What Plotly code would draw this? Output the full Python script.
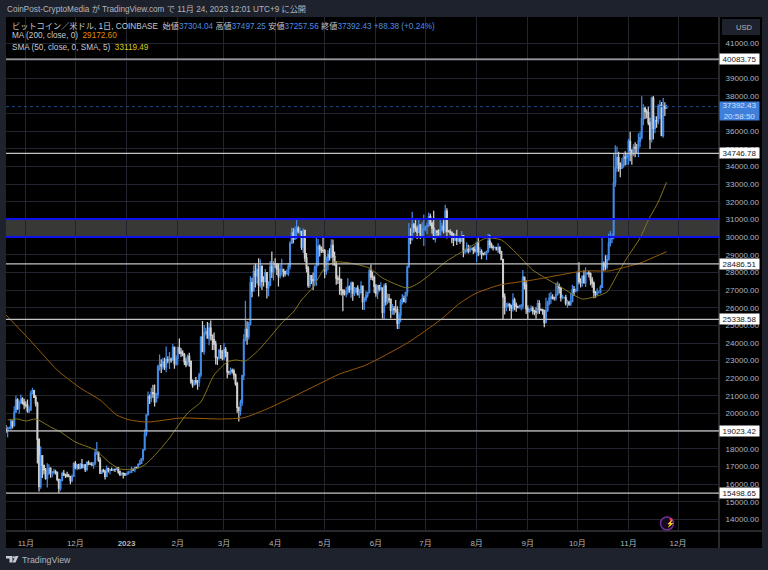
import pandas as pd
import plotly.graph_objects as go

first_date = "2022-10-20"
first_open = 19125
last_open = 37304.04

closes = [
 19045,19165,19205,19570,19330,20090,20775,20295,20595,20820,20630,20490,
 20485,20150,20205,21145,21300,20925,20600,18540,15880,17600,17070,16810,16330,16620,16900,16660,16690,16700,16690,16280,15780,16220,16605,16530,16520,16460,16430,16210,16440,17165,
 16970,17090,16890,17110,16970,17090,16840,17225,17130,17130,17080,17210,17780,17810,17360,16630,16780,16740,16440,16900,16820,16830,16790,16840,16835,16920,16700,16550,16630,16600,16530,
 16610,16670,16670,16850,16825,16950,16940,17120,17180,17440,17940,18850,19930,20960,20880,21190,21130,20670,21080,22670,22780,22710,22920,22630,23060,23010,23080,23030,23750,22830,23130,
 23730,23490,23430,23330,22940,22760,23240,22960,21800,21630,21860,21780,21780,22200,24330,23520,24570,24630,24280,24840,24440,24190,23940,23190,23160,23560,23490,23140,
 23640,23470,22360,22350,22430,22410,22200,21700,20360,20190,20620,22150,24190,24780,24370,25060,27420,26960,28040,27800,28170,27300,28350,27490,27490,27990,27140,27270,28350,28030,28480,
 28470,28190,27810,28170,28170,28040,27920,27950,28340,29650,30240,29890,30400,30490,30310,30320,29440,30390,28820,28250,27270,27820,27600,27520,28310,28420,29480,29320,29240,29230,
 28070,28680,29030,28850,29530,28900,28450,27660,27620,27590,26990,26800,26780,26920,27170,27040,27400,26820,26890,27110,26750,26850,27230,26340,26470,26720,26870,28080,27750,27700,27210,
 26820,27250,27070,27120,25740,27230,26350,26500,26480,25850,25940,25900,25900,25120,25590,26340,26510,26340,26850,28310,30000,29890,30690,30550,30470,30270,30700,30080,30450,30480,
 30590,30620,31160,30770,30510,29900,30350,30290,30170,30420,30620,30390,31470,30330,30300,30250,30150,29860,29920,29800,29900,29790,30080,29180,29230,29350,29220,29320,29360,29280,29230,
 29700,29170,29180,29070,29050,29050,29180,29770,29570,29430,29400,29420,29280,29410,29170,28720,26620,26050,26100,26190,26130,25980,26430,26160,26050,26000,26090,26100,27730,27300,25930,
 25800,25870,25970,25820,25780,25750,26240,25900,25890,25830,25160,25840,26220,26530,26600,26570,26530,26760,27210,27130,26570,26580,26580,26260,26300,26210,26350,27030,26910,26970,
 27970,27500,27430,27790,27410,27950,27970,27930,27580,27390,26870,26760,26860,26860,27160,28520,28410,28320,28720,29680,29920,29990,33080,33930,34500,34150,33890,34090,34530,34490,34650,
 35430,34930,34720,35080,35040,35040,35420,35640,36700,37300,37130,37060,36490,35550,37880,36160,36600,36580,37390,37470,35750,37410,37290,37392.43,
]
highs = [
 19350,19250,19250,19700,19600,20420,21020,20870,20750,21090,20930,20850,
 20700,20800,20400,21300,21470,21360,21060,20680,18600,18150,17650,17080,16920,17190,17130,16960,16750,16880,16820,16720,16300,16290,16700,16810,16600,16700,16600,16480,16550,17250,
 17320,17100,17160,17200,17430,17110,17140,17300,17350,17230,17260,17240,18000,18390,17850,17530,16800,16870,16820,17060,16900,16860,16950,16860,16860,16940,16970,16780,16660,16630,16640,
 16630,16760,16770,16990,16880,16990,16970,17170,17390,17490,18000,19100,19970,21260,21080,21460,21640,21650,21190,22750,23350,23080,23170,23160,23800,23250,23490,23180,23950,23800,23310,
 23810,24260,23720,23590,23430,23160,23350,23450,23010,21940,21900,22080,21900,22320,24380,25250,25020,24870,25190,25130,25280,24480,24600,24130,23210,23680,23890,23600,
 24000,23780,23480,22420,22610,22560,22540,22270,21800,20370,20780,22200,24500,26400,25240,25200,27780,27700,28400,28500,28450,28800,28750,28400,27790,28200,28000,27500,28650,29190,28650,
 28800,28530,28500,28450,28770,28190,28100,28170,28530,29770,30550,30500,30600,31030,30620,30550,30320,30500,30410,29100,28370,27880,27820,28000,28400,30030,29900,29580,29470,29970,
 29330,28900,29270,29370,29880,29860,29180,28650,27830,28320,27650,27060,27040,27190,27670,27260,27480,27470,27180,27150,27270,27050,27500,27220,26600,26930,26900,28230,28450,28050,27830,
 27350,27300,27300,27450,27130,27360,27400,26800,26780,26530,26210,26100,26440,26080,25750,26480,26780,26690,26900,28400,30800,30500,31440,30800,31050,30650,31000,30700,30850,31280,
 30660,30800,31390,31320,30880,31500,30450,30380,30450,31050,30810,30990,31830,31640,30410,30450,30340,30240,30200,30420,29990,29990,30350,30100,29340,29690,29570,29540,29410,29450,29530,
 29740,30050,29430,29320,29110,29170,29250,30190,30130,29700,29540,29460,29450,29660,29490,29230,28780,26800,26280,26300,26260,26130,26820,26560,26300,26110,26170,26210,28140,27760,27570,
 26130,25960,26130,26080,25880,26030,26450,26430,25950,25940,25880,26560,26400,26830,26890,26770,26620,27420,27490,27380,27160,26730,26630,26730,26450,26390,26830,27300,27230,27090,
 28060,28580,27670,27830,28120,28290,28030,28100,27990,27740,27480,26950,27100,26980,27290,30000,28620,28980,28990,30200,30350,30200,34750,35200,35130,34840,34240,34490,34740,34860,34720,
 35580,35970,34940,35260,35380,35280,35890,35990,37980,37530,37400,37250,37420,36760,37960,37990,36850,36850,37530,37760,37650,37880,37640,37497.25,
]
lows = [
 18900,18650,19110,19070,19160,19250,20060,20200,20000,20550,20520,20250,
 20350,20050,20030,20180,21080,20880,20400,17170,15590,15750,16360,16550,16250,15820,16530,16370,16400,16550,16550,16170,15500,15630,16160,16460,16350,16400,16400,16000,16110,16430,
 16850,16790,16870,16880,16880,16900,16690,16740,17080,17090,17070,16870,17080,17660,17280,16580,16580,16670,16270,16400,16660,16560,16770,16790,16690,16790,16590,16470,16490,16330,16470,
 16500,16540,16610,16650,16750,16680,16910,16910,17100,17150,17310,17910,18710,19890,20550,20640,20900,20400,20660,20860,22430,22300,22500,22470,22340,22850,22530,22890,22990,22540,22720,
 22760,23360,23210,23250,22750,22630,22750,22660,21690,21460,21600,21640,21350,21530,22050,23510,23340,24440,24240,23880,24150,23600,23610,22780,22750,23060,23110,23020,
 23020,23200,22000,22200,22210,22270,21930,21580,20050,19550,19900,20430,21900,24080,23900,24200,25000,26600,26900,27150,27370,26640,27150,27000,27200,27430,26520,26650,27250,27690,27550,
 28250,27860,27200,27660,27820,27730,27770,27880,27800,28170,29620,29660,29900,29900,30220,30150,29270,29100,28600,28000,27130,27130,27350,27000,27200,27250,28400,28900,29100,29100,
 27670,27870,28130,28680,28800,28400,28380,27300,27350,26740,26700,25800,26700,26600,26750,26850,26560,26400,26660,26850,26690,26550,26830,25880,25870,26340,26570,26800,27570,27550,26840,
 26620,26500,26920,26960,25390,25350,26130,26200,26280,25400,25600,25600,25720,24800,24800,25180,26180,26310,26250,26640,28270,29600,29800,30250,30300,29900,30220,29900,30050,29500,
 30330,30180,30600,30630,30200,29850,29700,30050,30080,29950,30300,30200,30250,29920,30260,30100,29660,29500,29770,29560,29720,29630,29730,28860,29040,29110,29070,29130,29260,29050,29110,
 28580,28920,28970,28750,28960,28980,28700,29120,29370,29360,29250,29360,29260,29100,29050,28700,25300,25620,25800,26000,25810,25330,25790,25860,25770,25980,25960,25860,25920,27030,25650,
 25330,25720,25800,25620,25570,25380,25630,25650,25800,25600,24900,25130,25770,26130,26220,26470,26410,26390,26680,26800,26350,26480,26520,26130,25990,26110,26100,26330,26670,26880,
 26960,27330,27150,27210,27380,27180,27860,27710,27270,27130,26540,26560,26700,26810,26810,27120,28080,28120,28170,28670,29470,29670,29880,32850,33700,33700,33400,33870,33930,34060,34090,
 34100,34300,34100,34580,34530,34730,34520,35110,35530,36340,36700,36730,36340,35000,35360,35530,35880,36200,36390,36700,35720,35630,36860,37257.56,
]

ma200_dates = ["2022-10-20","2022-11-04","2022-11-20","2022-12-04","2022-12-16","2022-12-26","2023-01-03","2023-01-14","2023-02-03","2023-02-27","2023-03-13","2023-03-27","2023-04-14","2023-04-30","2023-05-10","2023-05-26","2023-06-20","2023-07-10","2023-07-22","2023-08-01","2023-08-15","2023-09-04","2023-10-05","2023-10-20","2023-10-28","2023-11-08","2023-11-24"]
ma200_vals = [25588,24115,22472,21452,20772,19922,19640,19526,19750,19695,19770,20262,21056,21792,22246,22755,24002,25305,26268,26835,27288,27572,28082,28082,28252,28535,29172.6]
sma50_dates = ["2022-10-21","2022-10-27","2022-11-01","2022-11-07","2022-11-16","2022-11-22","2022-12-01","2022-12-13","2022-12-22","2022-12-28","2023-01-06","2023-01-12","2023-01-21","2023-01-27","2023-02-07","2023-02-15","2023-02-23","2023-03-03","2023-03-08","2023-03-14","2023-03-22","2023-03-30","2023-04-05","2023-04-12","2023-04-17","2023-04-24","2023-05-01","2023-05-07","2023-05-16","2023-05-28","2023-06-05","2023-06-20","2023-06-27","2023-07-05","2023-07-14","2023-07-23","2023-08-07","2023-08-16","2023-08-25","2023-09-04","2023-09-21","2023-10-04","2023-10-13","2023-10-19","2023-10-25","2023-10-31","2023-11-08","2023-11-13","2023-11-19","2023-11-24"]
sma50_vals = [19639,19696,19582,19696,19243,18960,18393,17940,17203,16863,16863,17090,17940,18620,20036,20659,22189,22925,23039,22982,23605,24455,25135,25758,26438,27175,28252,28592,28535,28252,27685,27118,27402,27968,28648,29158,29951,29838,29101,28138,27175,26495,26665,26892,27855,28818,29951,30971,31991,33119.49]

level_vals = [40083.75, 34746.78, 28486.51, 25338.58, 19023.42, 15498.65]
zone_low, zone_high = 30008, 31028
last_price = 37392.43
month_ticks = ["2022-11-01","2022-12-01","2023-01-01","2023-02-01","2023-03-01","2023-04-01","2023-05-01","2023-06-01","2023-07-01","2023-08-01","2023-09-01","2023-10-01","2023-11-01","2023-12-01"]
month_labels = ["11月","12月","<b>2023</b>","2月","3月","4月","5月","6月","7月","8月","9月","10月","11月","12月"]
price_ticks = list(range(14000, 42000, 1000))

dates = pd.date_range(first_date, periods=len(closes), freq="D")
opens = [first_open] + closes[:-2] + [last_open]

FONT = "Liberation Sans, Noto Sans CJK JP, sans-serif"
BG = "#1e222d"
GRID = "#22252e"
TXT = "#b2b5be"
W, H = 768, 570
L, R, T, B = 6, 719, 17, 531
X = lambda px: (px - L) / (R - L)
Y = lambda py: (B - py) / (B - T)

fig = go.Figure()
fig.add_trace(go.Scatter(x=ma200_dates, y=ma200_vals, mode="lines", line=dict(color="#9a5c08", width=1, shape="spline", smoothing=0.6), hoverinfo="skip", showlegend=False))
fig.add_trace(go.Scatter(x=sma50_dates, y=sma50_vals, mode="lines", line=dict(color="#85761c", width=1, shape="spline", smoothing=0.6), hoverinfo="skip", showlegend=False))
fig.add_trace(go.Candlestick(
    x=dates, open=opens, high=highs, low=lows, close=closes, showlegend=False,
    whiskerwidth=0,
    increasing=dict(line=dict(color="#4389e6", width=1.25), fillcolor="#4389e6"),
    decreasing=dict(line=dict(color="#cfcfcf", width=1.25), fillcolor="#ffffff"),
))

shapes = [
    dict(type="rect", xref="paper", yref="paper", x0=1, x1=X(762), y0=Y(548), y1=1, fillcolor="#000000", line_width=0, layer="below"),
    dict(type="rect", xref="paper", yref="paper", x0=0, x1=X(762), y0=Y(548), y1=0, fillcolor="#000000", line_width=0, layer="below"),
    dict(type="rect", xref="paper", yref="y", x0=0, x1=1, y0=zone_low, y1=zone_high, fillcolor="rgba(62,62,60,0.9)", line_width=0, layer="below"),
    dict(type="line", xref="paper", yref="y", x0=0, x1=1, y0=zone_low, y1=zone_low, line=dict(color="#1010ee", width=2)),
    dict(type="line", xref="paper", yref="y", x0=0, x1=1, y0=zone_high, y1=zone_high, line=dict(color="#1010ee", width=2)),
    dict(type="line", xref="paper", yref="y", x0=0, x1=1, y0=last_price, y1=last_price, line=dict(color="#1f4a8f", width=1, dash="dot")),
    dict(type="line", xref="paper", yref="paper", x0=1, x1=1, y0=Y(548), y1=1, line=dict(color="#50535e", width=1), layer="below"),
    dict(type="line", xref="paper", yref="paper", x0=0, x1=X(762), y0=0, y1=0, line=dict(color="#50535e", width=1), layer="below"),
    dict(type="rect", xref="paper", yref="paper", x0=X(722), x1=X(760), y0=Y(35), y1=Y(19), fillcolor="#1e222d", line_width=0),
    dict(type="path", xref="paper", yref="paper", fillcolor="#c8cbd4", line_width=0,
         path=f"M{X(6)},{Y(556)} L{X(12.5)},{Y(556)} L{X(12.5)},{Y(562.5)} L{X(9.5)},{Y(562.5)} L{X(9.5)},{Y(558.5)} L{X(6)},{Y(558.5)} Z"),
    dict(type="circle", xref="paper", yref="paper", x0=X(12.8), x1=X(15), y0=Y(558.5), y1=Y(556.2), fillcolor="#c8cbd4", line_width=0),
    dict(type="path", xref="paper", yref="paper", fillcolor="#c8cbd4", line_width=0,
         path=f"M{X(15.5)},{Y(556)} L{X(18.5)},{Y(556)} L{X(15.5)},{Y(562.5)} L{X(12.5)},{Y(562.5)} Z"),
    dict(type="circle", xref="paper", yref="paper", x0=X(660.5), x1=X(673.5), y0=Y(530), y1=Y(517), line=dict(color="#6f2f96", width=1.5), fillcolor="#14081c"),
    dict(type="circle", xref="paper", yref="paper", x0=X(669.5), x1=X(672.5), y0=Y(521), y1=Y(518), fillcolor="#f23645", line_width=0),
]
for v in level_vals:
    shapes.append(dict(type="line", xref="paper", yref="y", x0=0, x1=1, y0=v, y1=v, line=dict(color="#c4c4c4", width=1.4)))

def note(px, py, text, size=8, color=TXT, **kw):
    return dict(xref="paper", yref="paper", x=X(px), y=Y(py), text=text, showarrow=False, xanchor="left", yanchor="middle",
                font=dict(family=FONT, size=size, color=color), borderpad=0, **kw)

blue = "#4a8ee6"
legend1 = (f"ビットコイン／米ドル, 1日, COINBASE  始値<span style='color:{blue}'>37304.04</span> 高値<span style='color:{blue}'>37497.25</span> "
           f"安値<span style='color:{blue}'>37257.56</span> 終値<span style='color:{blue}'>37392.43 +88.38 (+0.24%)</span>")
ann = [
    note(6, 9, "CoinPost-CryptoMedia が TradingView.com で 11月 24, 2023 12:01 UTC+9 に公開", size=8.2),
    note(11, 26, legend1, size=8.2, color="#c5c8d0"),
    note(11, 36, "MA (200, close, 0)  <span style='color:#e08a00'>29172.60</span>", size=8.2, color="#c5c8d0"),
    note(11, 47, "SMA (50, close, 0, SMA, 5)  <span style='color:#dcc81e'>33119.49</span>", size=8.2, color="#c5c8d0"),
    note(735, 27, "USD", size=7.5, color=TXT),
    note(21, 560, "TradingView", size=8.8, color=TXT),
    note(664.5, 523.8, "⚡", size=7, color="#8a3fb8"),
]
for v in level_vals:
    ann.append(dict(xref="paper", yref="y", x=1, y=v, text=f"{v:.2f}", showarrow=False, xanchor="left", yanchor="middle",
                    width=39, height=10, align="center", bgcolor="#ffffff", borderpad=0,
                    font=dict(family=FONT, size=8, color="#131722")))
ann.append(dict(xref="paper", yref="y", x=1, y=last_price, yshift=-4, text=f"{last_price:.2f}<br>20:58:50", showarrow=False,
                xanchor="left", yanchor="middle", width=39, height=18, align="center", bgcolor="#3f7fdc", borderpad=0,
                font=dict(family=FONT, size=8, color="#cfe0f8")))

fig.update_layout(
    width=W, height=H, autosize=False,
    margin=dict(l=L, r=W - R, t=T, b=H - B, pad=0),
    paper_bgcolor=BG, plot_bgcolor="#000000",
    font=dict(family=FONT, size=8, color=TXT),
    shapes=shapes, annotations=ann, showlegend=False, dragmode=False,
    xaxis=dict(type="date", range=["2022-10-20 00:00", "2023-12-25 19:00"], rangeslider=dict(visible=False),
               tickmode="array", tickvals=month_ticks, ticktext=month_labels, showgrid=True, gridcolor=GRID, gridwidth=1,
               zeroline=False, ticks="outside", ticklen=4, tickcolor="rgba(0,0,0,0)", tickfont=dict(family=FONT, size=8, color=TXT), tickangle=0),
    yaxis=dict(side="right", range=[13350, 42473], tickmode="array", tickvals=price_ticks, ticktext=[f"{v:.2f}" for v in price_ticks],
               showgrid=True, gridcolor=GRID, gridwidth=1, zeroline=False, ticks="outside", ticklen=4, tickcolor="rgba(0,0,0,0)",
               tickfont=dict(family=FONT, size=8, color=TXT)),
)
fig.write_html("out.html", config=dict(displayModeBar=False),
               post_script="document.documentElement.style.background='#1e222d';document.body.style.margin='0';document.body.style.overflow='hidden';")
